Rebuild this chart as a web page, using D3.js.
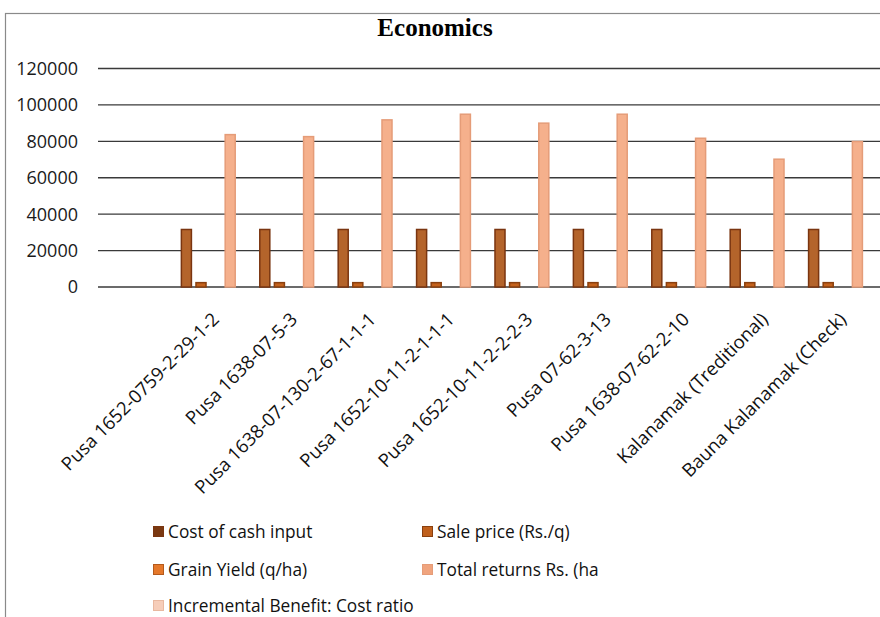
<!DOCTYPE html>
<html><head><meta charset="utf-8">
<script src="https://cdn.jsdelivr.net/npm/d3@7"></script>
<style>html,body{margin:0;padding:0;background:#fff;overflow:hidden}</style>
</head><body>
<svg id="c" width="880" height="617"></svg>
<script>
const categories = ["", "Pusa 1652-0759-2-29-1-2", "Pusa 1638-07-5-3", "Pusa 1638-07-130-2-67-1-1-1",
  "Pusa 1652-10-11-2-1-1-1", "Pusa 1652-10-11-2-2-2-3", "Pusa 07-62-3-13", "Pusa 1638-07-62-2-10",
  "Kalanamak (Treditional)", "Bauna Kalanamak (Check)"];
const seriesNames = ["Cost of cash input", "Sale price (Rs./q)", "Grain Yield (q/ha)", "Total returns Rs. (ha", "Incremental Benefit: Cost ratio"];
const costOfCash   = [null, 32000, 32000, 32000, 32000, 32000, 32000, 32000, 32000, 32000];
const salePrice    = [null, 2800, 2800, 2800, 2800, 2800, 2800, 2800, 2800, 2800];
const grainYield   = [null, 30, 30, 33, 34, 32, 34, 29, 25, 29];
const totalReturns = [null, 84100, 83000, 92200, 95300, 90400, 95300, 82100, 70600, 80300];
const incBenefit   = [null, 2.6, 2.6, 2.9, 3.0, 2.8, 3.0, 2.6, 2.2, 2.5];
const yTicks = [0, 20000, 40000, 60000, 80000, 100000, 120000];

const seriesValues = [costOfCash, salePrice, grainYield, totalReturns, incBenefit];
const fills   = ["#b4642b", "#c4621c", "#e2792c", "#f5b08c", "#f8cfba"];
const strokes = ["#7a3510", "#8a400f", "#b45a1c", "#e59c78", "#e9b8a0"];
const swatch  = ["#7a3811", "#c0601c", "#e5782a", "#f0a47e", "#f6cdb9"];

const svg = d3.select("#c");
svg.append("rect").attr("x", 5.5).attr("y", 13.5).attr("width", 900).attr("height", 700)
  .attr("fill", "#fff").attr("stroke", "#8a8a8a").attr("stroke-width", 1.2);

svg.append("text").attr("x", 435).attr("y", 36).attr("text-anchor", "middle")
  .attr("font-family", "Liberation Serif").attr("font-weight", "bold").attr("font-size", 25)
  .text("Economics");

const x = d3.scaleBand().domain(categories.map((c, i) => i)).range([98, 882]).padding(0);
const x1 = d3.scaleBand().domain(seriesNames).range([0, x.bandwidth()]).paddingInner(0.21).paddingOuter(0.29);
const y = d3.scaleLinear().domain([0, 120000]).range([287, 68.5]);

const grid = svg.append("g");
yTicks.forEach(t => {
  grid.append("line").attr("x1", 98).attr("x2", 880).attr("y1", y(t)).attr("y2", y(t))
    .attr("stroke", "#3a3a3a").attr("stroke-width", 1.3);
  grid.append("text").attr("x", 78).attr("y", y(t)).attr("dy", "0.36em").attr("text-anchor", "end")
    .attr("font-family", "Open Sans").attr("font-size", 18).attr("fill", "#1a1a1a").text(t);
});

const bars = svg.append("g");
seriesValues.forEach((vals, si) => {
  vals.forEach((v, ci) => {
    if (v == null) return;
    const h = y(0) - y(v);
    if (h < 0.5) return;
    bars.append("rect")
      .attr("x", x(ci) + x1(seriesNames[si]) + 0.75).attr("y", y(v) + 0.75)
      .attr("width", x1.bandwidth() - 1.5).attr("height", Math.max(0, h - 0.75))
      .attr("fill", fills[si]).attr("stroke", strokes[si]).attr("stroke-width", 1.5);
  });
});

// category labels
const lab = svg.append("g");
categories.forEach((c, i) => {
  if (!c) return;
  const cx = x(i) + x.bandwidth() / 2;
  lab.append("text").attr("transform", `translate(${cx},316) rotate(-45)`)
    .attr("text-anchor", "end").attr("dy", "0.35em")
    .attr("font-family", "Open Sans").attr("font-size", 18.5).attr("fill", "#111").text(c);
});

// legend
const legPos = [[153, 532], [422, 532], [153, 570], [422, 570], [153, 606]];
const leg = svg.append("g");
seriesNames.forEach((s, i) => {
  const [lx, ly] = legPos[i];
  leg.append("rect").attr("x", lx + 0.5).attr("y", ly - 5.5).attr("width", 10).attr("height", 10)
    .attr("fill", swatch[i]).attr("stroke", strokes[i]).attr("stroke-width", 1);
  leg.append("text").attr("x", lx + 15).attr("y", ly).attr("dy", "0.35em")
    .attr("font-family", "Open Sans").attr("font-size", 17.3).attr("fill", "#111").text(s);
});
</script>
</body></html>
